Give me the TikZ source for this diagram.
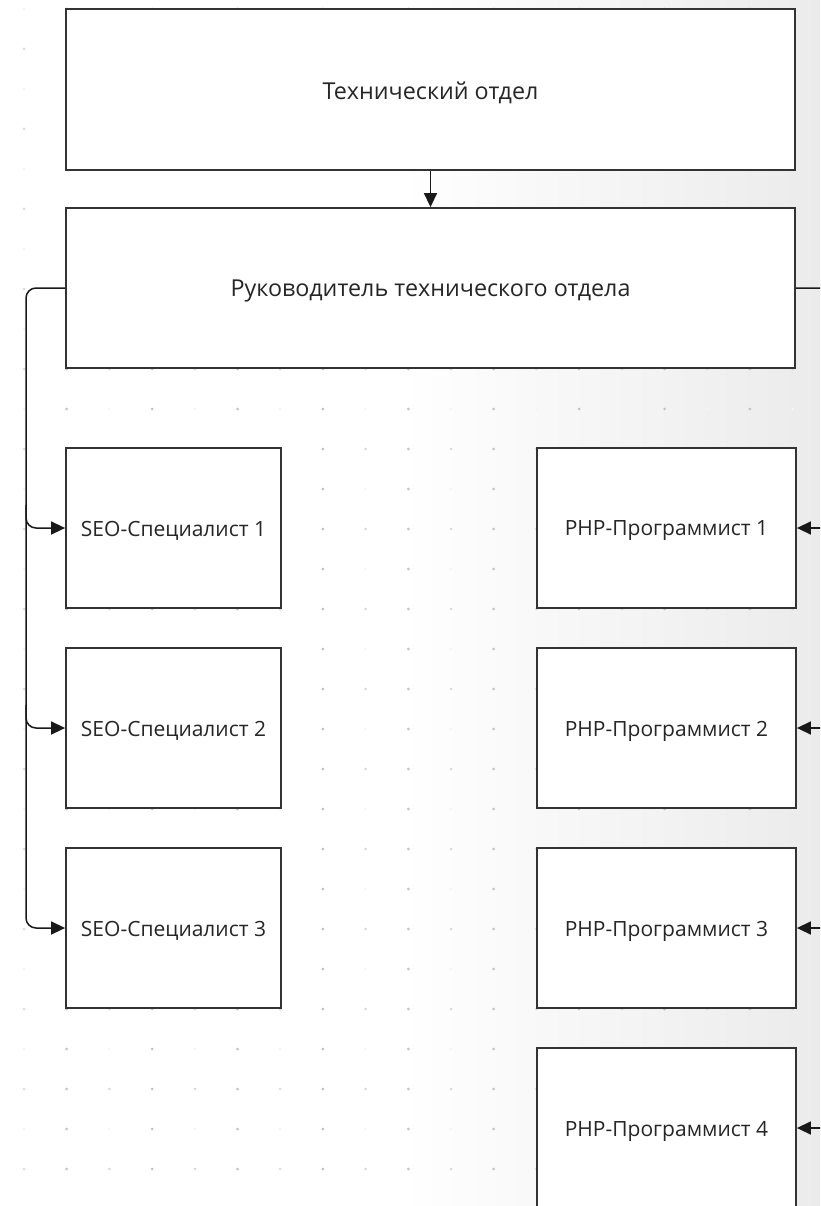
\documentclass[tikz,border=0pt]{standalone}
\usepackage{fontspec}
\setmainfont{Open Sans}
\usetikzlibrary{arrows.meta}
\definecolor{boxline}{HTML}{333333}
\definecolor{textcol}{HTML}{262626}
\definecolor{bgright}{HTML}{EBEBEB}
\newcommand{\boxlbl}[1]{\raisebox{-3pt}[\height][\depth]{#1}}
\tikzset{
  box/.style={draw=boxline, line width=1.8pt, fill=white, inner sep=0pt, text=textcol,
    font=\fontsize{21}{25}\selectfont},
  bigbox/.style={box, minimum width=729pt, minimum height=160pt,
    font=\fontsize{23.3}{28}\selectfont},
  seobox/.style={box, minimum width=215pt, minimum height=160pt},
  phpbox/.style={box, minimum width=259pt, minimum height=160pt},
  conn/.style={draw=black!90, line width=1.5pt},
  arr/.style={conn, -{Triangle[length=14pt,width=13pt]}},
}
\begin{document}
\begin{tikzpicture}[x=1pt,y=-1pt]
\useasboundingbox (0,0) rectangle (820,1206);
\clip (0,0) rectangle (820,1206);
% background
\fill[white] (0,0) rectangle (820,1206);
\shade[left color=white, right color=bgright] (400,0) rectangle (820,1206);
% dot grid
\foreach \i in {1,3,...,19} \foreach \j in {0,...,30}
  \fill[gray!48] ({24+42.7*\i},{9+40*\j}) circle (1.5pt);
\foreach \i in {0,2,...,18} \foreach \j in {1,3,...,29}
  \fill[gray!30] ({24+42.7*\i},{9+40*\j}) circle (1.5pt);
\foreach \i in {0,2,...,18} \foreach \j in {0,2,...,30}
  \fill[gray!8] ({24+42.7*\i},{9+40*\j}) circle (1.5pt);
% boxes
\node[bigbox, minimum height=161pt] (T) at (430.5,89.5) {\boxlbl{Технический отдел}};
\node[bigbox] (R) at (430.5,288) {\boxlbl{Руководитель технического отдела}};
\node[seobox] (S1) at (173.5,528) {\boxlbl{SEO-Специалист 1}};
\node[seobox] (S2) at (173.5,728) {\boxlbl{SEO-Специалист 2}};
\node[seobox] (S3) at (173.5,928) {\boxlbl{SEO-Специалист 3}};
\node[phpbox] (P1) at (666.5,528) {\boxlbl{PHP-Программист 1}};
\node[phpbox] (P2) at (666.5,728) {\boxlbl{PHP-Программист 2}};
\node[phpbox] (P3) at (666.5,928) {\boxlbl{PHP-Программист 3}};
\node[phpbox] (P4) at (666.5,1128) {\boxlbl{PHP-Программист 4}};
% connectors
\draw[arr] (T.south) -- (R.north);
\coordinate (LA) at (26,288);
\coordinate (LB) at (26,928);
\coordinate (L1) at (26,505);
\coordinate (L2) at (26,705);
\draw[arr, rounded corners=10pt] (R.west) -- (LA) -- (LB) -- (S3.west);
\draw[arr, rounded corners=10pt] (L1) |- (S1.west);
\draw[arr, rounded corners=10pt] (L2) |- (S2.west);
\coordinate (RA) at (845,288);
\coordinate (RB) at (845,1128);
\draw[conn, rounded corners=10pt] (R.east) -- (RA) -- (RB);
\coordinate (R1) at (845,528);
\coordinate (R2) at (845,728);
\coordinate (R3) at (845,928);
\coordinate (R4) at (845,1128);
\draw[arr] (R1) -- (P1.east);
\draw[arr] (R2) -- (P2.east);
\draw[arr] (R3) -- (P3.east);
\draw[arr] (R4) -- (P4.east);
\end{tikzpicture}
\end{document}
